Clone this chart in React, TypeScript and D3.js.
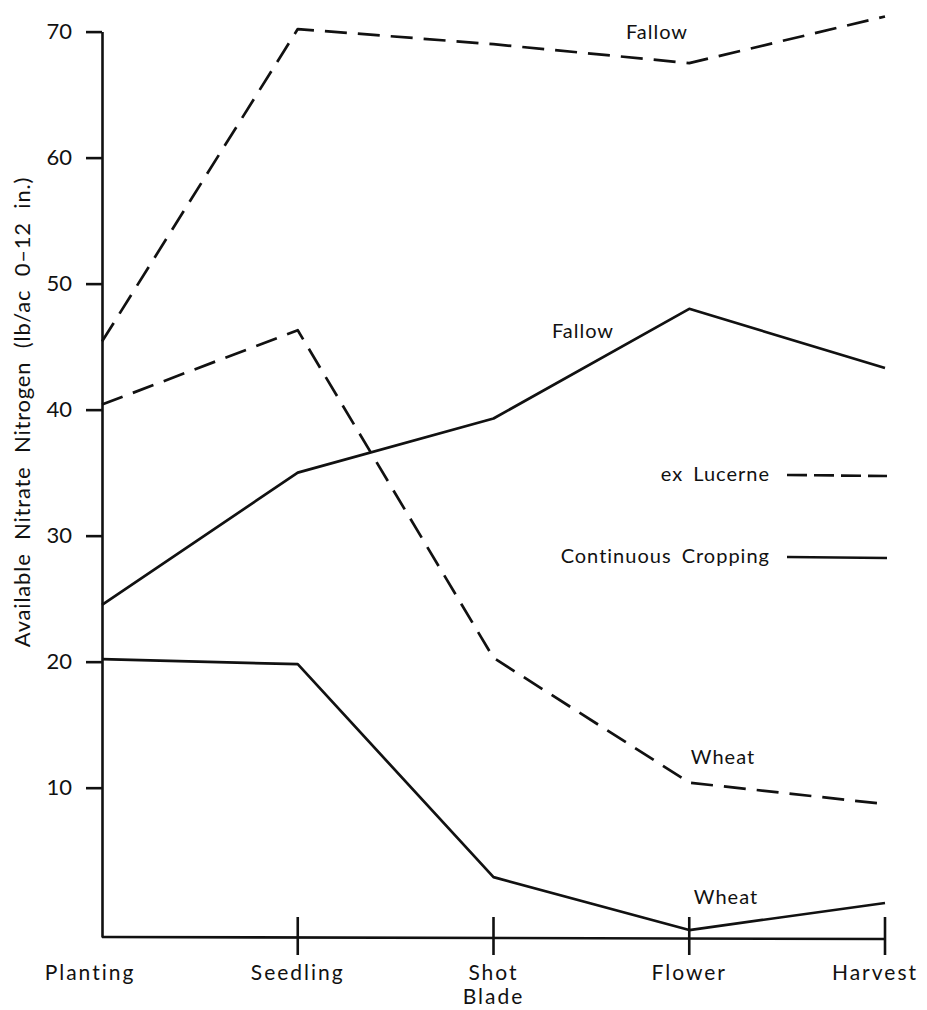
import { useEffect, useRef } from 'react';
import * as d3 from 'd3';

// Growth stages along the bottom
const stages = ['Planting', 'Seedling', 'Shot Blade', 'Flower', 'Harvest'];
const yTicks = [10, 20, 30, 40, 50, 60, 70];

// ex Lucerne (dashed lines)
const lucerneFallow = [45.4, 70.2, 69.0, 67.5, 71.2];
const lucerneWheat = [40.4, 46.3, 20.3, 10.4, 8.7];

// Continuous Cropping (solid lines)
const continuousFallow = [24.5, 35.0, 39.3, 48.0, 43.3];
const continuousWheat = [20.2, 19.8, 2.9, -1.3, 0.85];

const legendNames = ['ex Lucerne', 'Continuous Cropping'];
const yTitle = 'Available Nitrate Nitrogen (lb/ac 0–12 in.)';

export default function App() {
  const svgRef = useRef<SVGSVGElement>(null);

  useEffect(() => {
    if (!svgRef.current) return;
    d3.select(svgRef.current).selectAll('*').remove();

    const width = 927;
    const height = 1010;
    const ink = '#111';
    const font = 'Lato, "Open Sans", sans-serif';

    const svg = d3.select(svgRef.current)
      .attr('width', width)
      .attr('height', height)
      .style('font-family', font);

    svg.append('rect').attr('width', width).attr('height', height).attr('fill', '#fff');

    const x = d3.scalePoint<string>().domain(stages).range([102, 885]);
    const y = d3.scaleLinear().domain([-1.85, 70]).range([937, 31.6]);

    // y axis
    const yAxis = svg.append('g')
      .attr('transform', `translate(${x('Planting')},0)`)
      .call(d3.axisLeft(y).tickValues(yTicks).tickSizeInner(16).tickSizeOuter(0).tickPadding(14));
    yAxis.select('.domain').attr('stroke', ink).attr('stroke-width', 2.6);
    yAxis.selectAll('.tick line').attr('stroke', ink).attr('stroke-width', 2.6);
    yAxis.selectAll('.tick text')
      .attr('fill', ink)
      .style('font-size', '22px')
      .style('font-family', font);

    // x axis baseline
    const baseY = y(-1.85);
    svg.append('line')
      .attr('x1', x('Planting')!)
      .attr('x2', x('Harvest')!)
      .attr('y1', baseY)
      .attr('y2', baseY + 2)
      .attr('stroke', ink)
      .attr('stroke-width', 2.6);

    // cross ticks at each stage
    svg.selectAll('line.xtick')
      .data(stages.slice(1))
      .join('line')
      .attr('class', 'xtick')
      .attr('x1', d => x(d)!)
      .attr('x2', d => x(d)!)
      .attr('y1', baseY - 20)
      .attr('y2', baseY + 18)
      .attr('stroke', ink)
      .attr('stroke-width', 2.6);

    // stage labels (ends pulled in a little, as in the original)
    const nudge: Record<string, number> = { Planting: -12, Harvest: -10 };
    const xl = svg.selectAll('text.xlab')
      .data(stages)
      .join('text')
      .attr('class', 'xlab')
      .attr('text-anchor', 'middle')
      .attr('fill', ink)
      .style('font-size', '21px')
      .style('letter-spacing', '2px')
      .attr('y', 980);
    xl.each(function (d) {
      const cx = x(d)! + (nudge[d] || 0);
      const parts = d.split(' ');
      d3.select(this).selectAll('tspan')
        .data(parts)
        .join('tspan')
        .attr('x', cx)
        .attr('dy', (_p, i) => (i === 0 ? 0 : 24))
        .text(p => p);
    });

    // y title
    svg.append('text')
      .attr('transform', 'translate(30,412) rotate(-90)')
      .attr('text-anchor', 'middle')
      .attr('fill', ink)
      .style('font-size', '22px')
      .style('letter-spacing', '0.8px')
      .style('word-spacing', '7px')
      .text(yTitle);

    // lines
    const line = d3.line<number>()
      .x((_d, i) => x(stages[i])!)
      .y(d => y(d));

    const series = [
      { values: lucerneFallow, dashed: true },
      { values: lucerneWheat, dashed: true },
      { values: continuousFallow, dashed: false },
      { values: continuousWheat, dashed: false }
    ];

    svg.selectAll('path.series')
      .data(series)
      .join('path')
      .attr('class', 'series')
      .attr('d', d => line(d.values))
      .attr('fill', 'none')
      .attr('stroke', ink)
      .attr('stroke-width', 2.7)
      .attr('stroke-linejoin', 'round')
      .attr('stroke-dasharray', d => (d.dashed ? '22,11' : null));

    // in-plot annotations
    const notes = [
      { text: 'Fallow', x: 657, y: 39 },
      { text: 'Fallow', x: 583, y: 338 },
      { text: 'Wheat', x: 723, y: 764 },
      { text: 'Wheat', x: 726, y: 904 }
    ];
    svg.selectAll('text.note')
      .data(notes)
      .join('text')
      .attr('class', 'note')
      .attr('text-anchor', 'middle')
      .attr('x', d => d.x)
      .attr('y', d => d.y)
      .attr('fill', ink)
      .style('font-size', '20px')
      .style('letter-spacing', '1px')
      .text(d => d.text);

    // legend
    const legend = svg.append('g');
    legendNames.forEach((name, i) => {
      const ly = 474 + i * 82;
      legend.append('text')
        .attr('x', 770)
        .attr('y', ly + 7)
        .attr('text-anchor', 'end')
        .attr('fill', ink)
        .style('font-size', '20px')
        .style('letter-spacing', '1px')
        .style('word-spacing', '4px')
        .text(name);
      legend.append('line')
        .attr('x1', 787)
        .attr('x2', 887)
        .attr('y1', ly + 1)
        .attr('y2', ly + 2)
        .attr('stroke', ink)
        .attr('stroke-width', 2.7)
        .attr('stroke-dasharray', i === 0 ? '20,7' : null);
    });
  }, []);

  return (
    <div style={{ position: 'absolute', left: 0, top: 0 }}>
      <svg ref={svgRef} style={{ display: 'block' }}></svg>
    </div>
  );
}
